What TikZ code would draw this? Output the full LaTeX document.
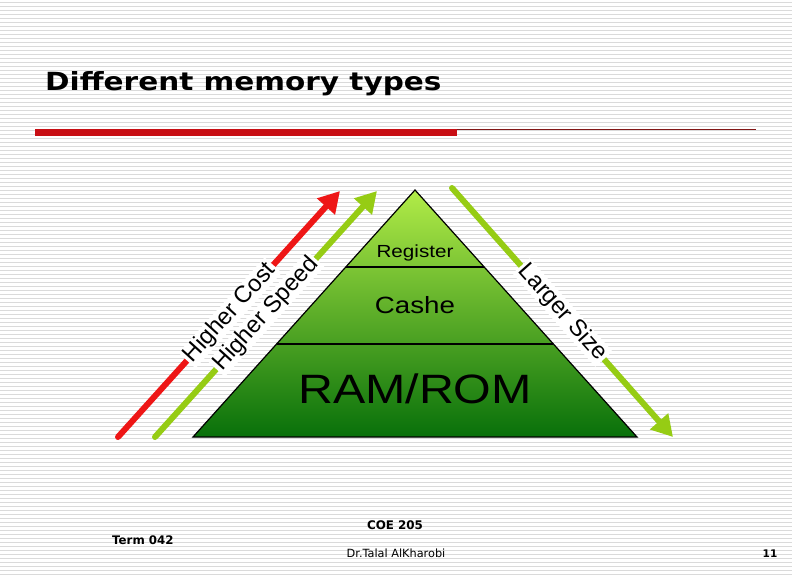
\documentclass[tikz,border=0pt]{standalone}
\usepackage{fontspec}
\setmainfont{Liberation Sans}
\newfontfamily\verd{DejaVu Sans}
\usetikzlibrary{arrows.meta,calc}
\definecolor{stripegray}{RGB}{218,218,218}
\definecolor{barred}{RGB}{200,14,20}
\definecolor{thinred}{RGB}{130,22,22}
\definecolor{arrred}{RGB}{238,22,22}
\definecolor{arrgreen}{RGB}{150,204,20}
\definecolor{pyrtop}{RGB}{178,236,72}
\definecolor{pyrmid}{RGB}{92,184,30}
\definecolor{pyrbot}{RGB}{8,112,10}
\tikzset{
  stripe/.style={draw=stripegray, line width=1pt},
  arr/.style={line width=6pt, line cap=round, -{Triangle[width=23pt,length=21pt]}},
  lab/.style={fill=white, inner xsep=2pt, inner ysep=0.5pt, font=\fontsize{23.6}{25}\selectfont},
  ptext/.style={anchor=base, xscale=1.18, text=black},
  pyrline/.style={draw=black, line width=1.2pt}
}
\begin{document}
\begin{tikzpicture}[x=1pt,y=-1pt]
\useasboundingbox (0,0) rectangle (792,576);
\fill[white] (0,0) rectangle (792,576);
\foreach \yy in {2,6,...,574} \draw[stripe] (0,\yy) -- (792,\yy);

% title
\node[anchor=base west, inner sep=0pt, xscale=1.18, font=\verd\bfseries\fontsize{25}{30}\selectfont] (title) at (45,90) {Different memory types};
\fill[barred] (35,129) rectangle (457,136);
\coordinate (tl0) at (457,129.5);
\coordinate (tl1) at (756,129.5);
\draw[thinred, line width=1pt] (tl0) -- (tl1);

% pyramid
\coordinate (A) at (415,190);
\coordinate (L) at (193,437);
\coordinate (R) at (637,437);
\shade[top color=pyrtop, middle color=pyrmid, bottom color=pyrbot] (A) -- (L) -- (R) -- cycle;
\draw[pyrline] (A) -- (L) -- (R) -- cycle;
\coordinate (d1l) at ($(L)!0.6883!(A)$);
\coordinate (d1r) at ($(R)!0.6883!(A)$);
\coordinate (d2l) at ($(L)!0.3765!(A)$);
\coordinate (d2r) at ($(R)!0.3765!(A)$);
\draw[pyrline] (d1l) -- (d1r);
\draw[pyrline] (d2l) -- (d2r);
\node[ptext, font=\fontsize{17.5}{20}\selectfont] (reg) at (415,257) {Register};
\node[ptext, font=\fontsize{23.5}{26}\selectfont] (cash) at (415,313) {Cashe};
\node[ptext, font=\fontsize{41}{44}\selectfont] (ram) at (415,403) {RAM/ROM};

% arrows
\coordinate (r0) at (118,437);
\coordinate (r1) at (340,191);
\coordinate (g0) at (155,437);
\coordinate (g1) at (377,191);
\coordinate (s0) at (452,188);
\coordinate (s1) at (673,437);
\draw[arr, arrred] (r0) -- (r1);
\draw[arr, arrgreen] (g0) -- (g1);
\draw[arr, arrgreen] (s0) -- (s1);
\path (r0) -- (r1) node[pos=0.505, lab, rotate=47.9] (cost) {Higher Cost};
\path (g0) -- (g1) node[pos=0.5, lab, rotate=47.9] (speed) {Higher Speed};
\path (s0) -- (s1) node[pos=0.5, lab, rotate=-48.4] (size) {Larger Size};

% footer
\node[anchor=base west, inner sep=0pt, font=\verd\bfseries\fontsize{11.8}{14}\selectfont] (term) at (112,544.5) {Term 042};
\node[anchor=base, inner sep=0pt, font=\verd\bfseries\fontsize{11.9}{14}\selectfont] (coe) at (395,529) {COE 205};
\node[anchor=base, inner sep=0pt, font=\verd\fontsize{11.3}{13}\selectfont] (dr) at (396,557) {Dr.Talal AlKharobi};
\node[anchor=base, inner sep=0pt, font=\verd\bfseries\fontsize{10.5}{12}\selectfont] (pg) at (770,557) {11};
\end{tikzpicture}
\end{document}
